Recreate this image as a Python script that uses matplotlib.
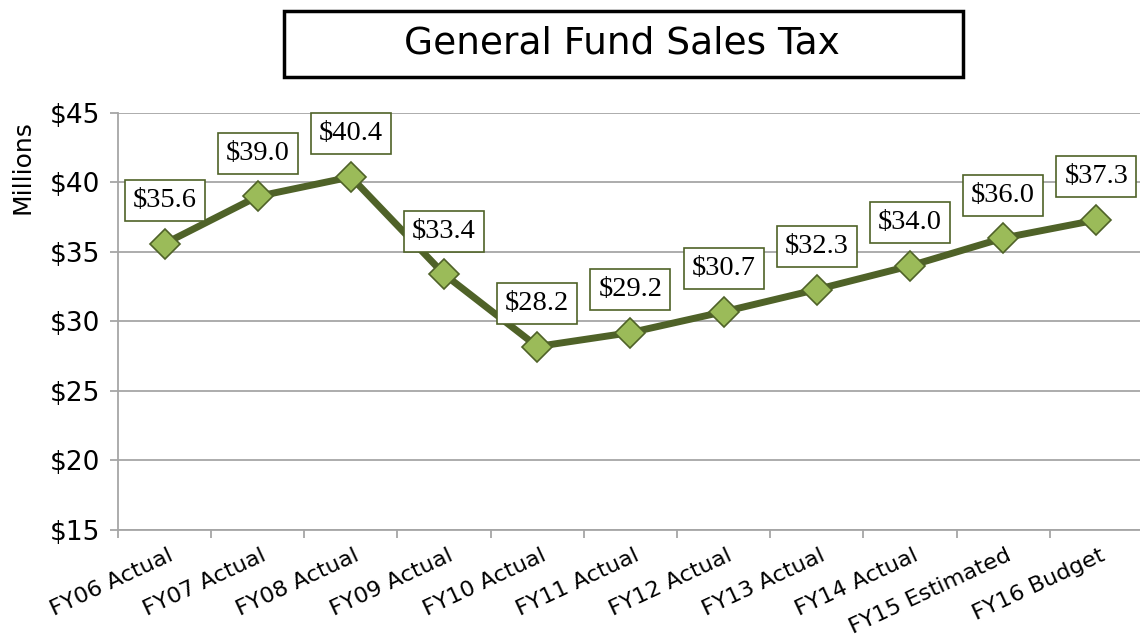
import matplotlib
matplotlib.use("Agg")
import matplotlib.pyplot as plt
from matplotlib.patches import Rectangle
from matplotlib.transforms import ScaledTranslation

categories = ["FY06 Actual", "FY07 Actual", "FY08 Actual", "FY09 Actual", "FY10 Actual",
              "FY11 Actual", "FY12 Actual", "FY13 Actual", "FY14 Actual",
              "FY15 Estimated", "FY16 Budget"]
sales_tax = [35.6, 39.0, 40.4, 33.4, 28.2, 29.2, 30.7, 32.3, 34.0, 36.0, 37.3]
y_ticks = [15, 20, 25, 30, 35, 40, 45]

dark_green = "#4f6228"
light_green = "#9bbb59"
grid_gray = "#a6a6a6"
sans = ["DejaVu Sans"]

fig = plt.figure(figsize=(11.4, 6.38), dpi=100)
ax = fig.add_axes([0.1035, 0.1693, 0.8990, 0.6536])

x = list(range(len(categories)))
ax.plot(x, sales_tax, color=dark_green, lw=5, marker="D", ms=15.5,
        mfc=light_green, mec=dark_green, mew=1.2, zorder=3)

for xi, v in zip(x, sales_tax):
    ax.annotate("${:.1f}".format(v), (xi, v), xytext=(0, 31), textcoords="offset points",
                ha="center", va="center", fontsize=20.5, family="Liberation Serif",
                bbox=dict(boxstyle="square,pad=0.28", fc="white", ec=dark_green, lw=1.2),
                zorder=4)

ax.set_xlim(-0.5, len(categories) - 0.5)
ax.set_ylim(15, 45)
ax.set_yticks(y_ticks)
ax.set_yticklabels(["${}".format(t) for t in y_ticks], fontsize=19, family=sans)
ax.yaxis.grid(True, color=grid_gray, lw=1.3)
ax.set_axisbelow(True)

ax.set_xticks([i - 0.5 for i in x] + [len(x) - 0.5])
ax.set_xticklabels([])
ax.set_xticks(x, minor=True)
ax.set_xticklabels(categories, minor=True, rotation=25, ha="right", va="top",
                   rotation_mode="anchor", fontsize=16.2, family=sans)
ax.tick_params(axis="x", which="minor", length=0, pad=11)
ax.tick_params(axis="x", which="major", length=6, color=grid_gray, width=1.3)
ax.tick_params(axis="y", length=6, color=grid_gray, width=1.3, pad=7)
shift = ScaledTranslation(0.03, 0, fig.dpi_scale_trans)
for lab in ax.get_xticklabels(minor=True):
    lab.set_transform(lab.get_transform() + shift)

for s in ["top", "right"]:
    ax.spines[s].set_visible(False)
for s in ["left", "bottom"]:
    ax.spines[s].set_color(grid_gray)
    ax.spines[s].set_linewidth(1.3)

fig.text(0.020, 0.738, "Millions", rotation=90, ha="center", va="center",
         fontsize=18, family=sans)

fig.patches.append(Rectangle((0.2487, 0.879), 0.5956, 0.1035, transform=fig.transFigure,
                             fill=False, ec="black", lw=2.5))
fig.text(0.5452, 0.932, "General Fund Sales Tax", ha="center", va="center",
         fontsize=27, family=sans)

fig.savefig("out.png", dpi=100)
